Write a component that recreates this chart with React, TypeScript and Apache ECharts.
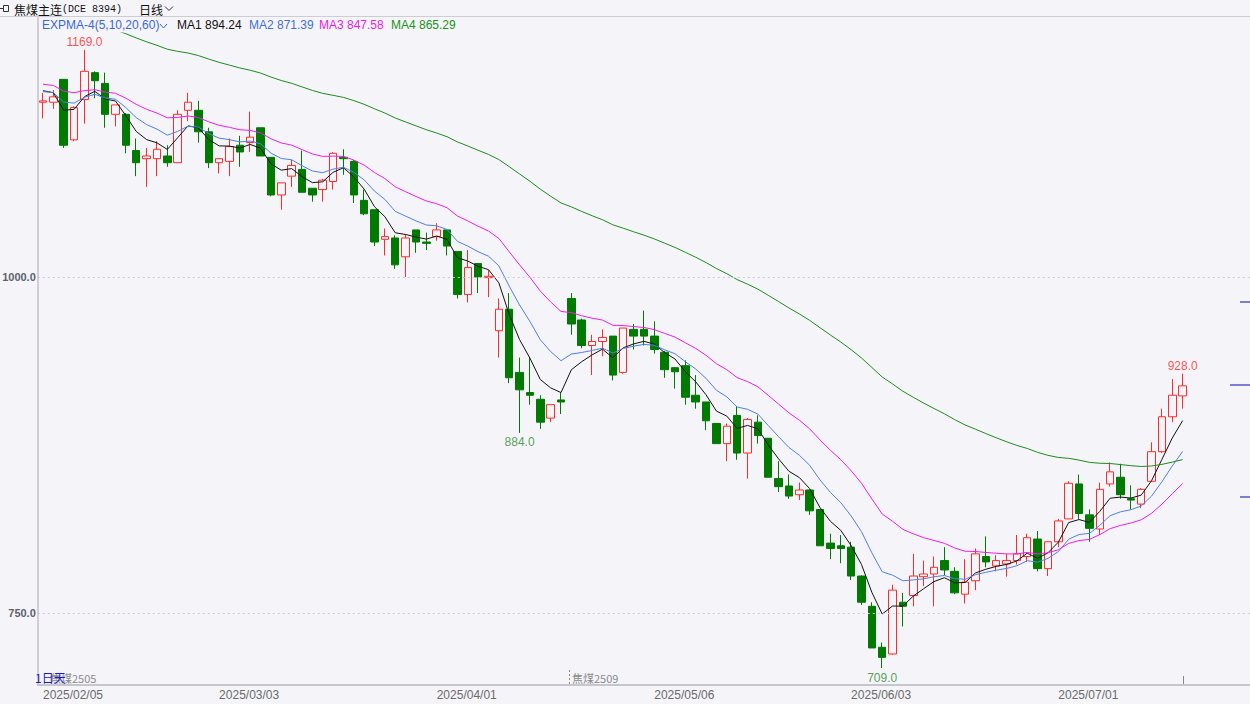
import React, { useEffect, useRef } from "react";
import * as echarts from "echarts";

// ---- data ----
const dates = [
  "2025/02/06","2025/02/07","2025/02/10","2025/02/11","2025/02/12","2025/02/13","2025/02/14","2025/02/17","2025/02/18","2025/02/19",
  "2025/02/20","2025/02/21","2025/02/24","2025/02/25","2025/02/26","2025/02/27","2025/02/28",
  "2025/03/03","2025/03/04","2025/03/05","2025/03/06","2025/03/07","2025/03/10","2025/03/11","2025/03/12","2025/03/13","2025/03/14",
  "2025/03/17","2025/03/18","2025/03/19","2025/03/20","2025/03/21","2025/03/24","2025/03/25","2025/03/26","2025/03/27","2025/03/28","2025/03/31",
  "2025/04/01","2025/04/02","2025/04/03","2025/04/07","2025/04/08","2025/04/09","2025/04/10","2025/04/11","2025/04/14","2025/04/15",
  "2025/04/16","2025/04/17","2025/04/18","2025/04/21","2025/04/22","2025/04/23","2025/04/24","2025/04/25","2025/04/28","2025/04/29","2025/04/30",
  "2025/05/06","2025/05/07","2025/05/08","2025/05/09","2025/05/12","2025/05/13","2025/05/14","2025/05/15","2025/05/16","2025/05/19",
  "2025/05/20","2025/05/21","2025/05/22","2025/05/23","2025/05/26","2025/05/27","2025/05/28","2025/05/29","2025/05/30",
  "2025/06/03","2025/06/04","2025/06/05","2025/06/06","2025/06/09","2025/06/10","2025/06/11","2025/06/12","2025/06/13","2025/06/16",
  "2025/06/17","2025/06/18","2025/06/19","2025/06/20","2025/06/23","2025/06/24","2025/06/25","2025/06/26","2025/06/27","2025/06/30",
  "2025/07/01","2025/07/02","2025/07/03","2025/07/04","2025/07/07","2025/07/08","2025/07/09","2025/07/10","2025/07/11","2025/07/14",
  "2025/07/15","2025/07/16","2025/07/17",
];

const opens = [
  1130,1130,1147,1102,1132,1152,1144,1121,1121,1094,
  1088,1088,1090,1085,1124,1124,1108,1085,1086,1098,
  1100,1111,1089,1061,1075,1080,1066,1065,1071,1089,
  1086,1057,1050,1028,1029,1015,1035,1026,1030,1035,
  1019,987,1010,999.5,960,976,929,914,909,895,
  908.5,984,968,949,952,956,929,961,961,956,
  944,932.5,934,912,907,891,876,897,869,892,
  880,850,844.5,838,841.5,827,802,800,799,777.5,
  755,724.5,719.5,758,763,777,779,789,781,764,
  774,792,785,786.5,789,792,805,783,803,820,
  846,823,812.5,846,851,835,831,848,870,896,
  911.5,
];

const closes = [
  1131,1134,1098,1126,1153,1146,1121,1128,1098,1085,
  1090,1095,1085,1121,1130,1108,1085,1088,1097,1093,
  1104,1090,1061,1070,1083,1063,1061,1072,1092,1088,
  1061,1047,1026,1030,1009,1029,1026,1025,1035,1023,
  987,1007,1000,1000.5,976,925,916,912,892,905,
  907,965,949,952,955,927,962,956,956,946,
  931,929.5,910.5,907,893,876,889,869,894,882,
  851,844,837,841.5,826,800,798,798,777.5,758,
  724,717,767,755,777.5,779,784,782,765,773,
  794,788,789,789,794,806,783,803,818.5,846.5,
  824,813,842,855,838,834,842,870,896,912,
  919,
];

const lows = [
  1118,1125,1096,1101,1114,1133,1111,1112,1092,1075,
  1067,1075,1082,1085,1116,1100,1081,1077,1075,1082,
  1093,1090,1060,1050,1067,1063,1056,1056,1065,1076,
  1055,1046,1023,1016,1006,1000,1018,1020,1027,1016,
  984,981,988,985,940,921,884,905,887,892,
  898,957,947,927,941,923,928,946,949,943,
  925,917,905,902,886,876,863,864,850,876,
  851,840,835,834,823,800,790,787,774.5,756,
  724,709,719,740,755,770,755,778,764,757,
  767,784,781,777,786,788,781,777.5,799,820,
  820,803,808,844,835,827,828,848,869,892,
  902,
];

const highs = [
  1137,1139,1147,1127,1169,1153,1152,1128,1122,1103,
  1096,1101,1098,1124,1137,1131,1111,1088,1103,1105,
  1123,1111,1089,1070,1087,1094,1066,1073,1093,1095,
  1087,1065,1050,1036,1031,1032,1035,1033,1040,1035,
  1019,1020,1010,1005,984,988,940,940,912,905,
  914,988,969,957,961,956,962,965,975,967,
  945,933,938,927,907,891,891,904,895,897,
  880,863,853,847,842,827,809,808,803,778,
  758,728,771,765,794,789,792,799,784,790,
  798,807,793,794,808,809,811,803,820,848,
  853,827,847,862,861,845,843,877,902,924,
  928,
];

// EXPMA indicator: periods and the indicator values on the first visible bar
const emaPeriods = [5, 10, 20, 60];
const emaFirstValues = [1138.6, 1137.9, 1143.4, 1198];
const emaNames = ["MA1", "MA2", "MA3", "MA4"];
const emaHeaderValues = ["894.24", "871.39", "847.58", "865.29"];

const yTicks = [1000, 750];
const xTickIndex = [0, 17, 38, 59, 78, 98];
const xTickLabels = ["2025/02/05", "2025/03/03", "2025/04/01", "2025/05/06", "2025/06/03", "2025/07/01"];

const extremeMarks = [
  { index: 4, kind: "high" },
  { index: 46, kind: "low" },
  { index: 81, kind: "low" },
  { index: 110, kind: "high" },
];

// ---- styles ----
const BG = "#f5f5f9";
const UP = "#ff2a2a";
const DOWN = "#007a00";
const EMA_COLORS = ["#111111", "#4f7fe6", "#f01cf0", "#1e8a1e"];
const HEADER_COLORS = ["#111111", "#3f6fe0", "#e81ce8", "#1a931a"];
const LATIN = "'Liberation Sans', Arial, 'Noto Sans CJK SC', sans-serif";
const CJK = "'Noto Sans CJK SC', 'Liberation Sans', sans-serif";

function computeEma(period: number, first: number): number[] {
  const a = 2 / (period + 1);
  const out: number[] = [];
  closes.forEach((c, i) => {
    out.push(i === 0 ? first : a * c + (1 - a) * out[i - 1]);
  });
  return out.map((v) => Math.round(v * 100) / 100);
}

export default function App() {
  const ref = useRef<HTMLDivElement>(null);

  useEffect(() => {
    document.body.style.margin = "0";
    document.body.style.background = BG;
    if (!ref.current) return;
    const chart = echarts.init(ref.current, undefined, { renderer: "svg" });

    const BAND = 10.41;
    const PAD = 6;
    const cats = dates.concat(Array.from({ length: PAD }, (_, k) => "pad" + k));

    const candleData = opens.map((o, i) => [o, closes[i], lows[i], highs[i]]);
    const emas = emaPeriods.map((p, k) => computeEma(p, emaFirstValues[k]));

    const headerX = [177, 249, 319, 391];

    const graphic: any[] = [
      { type: "rect", shape: { x: 0, y: 0, width: 1250, height: 16 }, style: { fill: BG }, silent: true },
      { type: "line", shape: { x1: 0, y1: 16.5, x2: 1250, y2: 16.5 }, style: { stroke: "#cdcdd4", lineWidth: 1 }, silent: true },
      { type: "line", shape: { x1: 38, y1: 17, x2: 38, y2: 686 }, style: { stroke: "#a8a8b0", lineWidth: 1 }, silent: true },
      // header icon
      { type: "rect", shape: { x: 3.5, y: 5.5, width: 5, height: 6 }, style: { fill: "none", stroke: "#333", lineWidth: 1 }, silent: true },
      { type: "line", shape: { x1: 0, y1: 8.5, x2: 3.5, y2: 8.5 }, style: { stroke: "#333", lineWidth: 1 }, silent: true },
      { type: "text", x: 14, y: 9, style: { text: "焦煤主连", fill: "#111", fontSize: 12, fontFamily: CJK, verticalAlign: "middle" }, silent: true },
      { type: "text", x: 62, y: 9.5, style: { text: "(DCE 8394)", fill: "#111", fontSize: 10, fontFamily: "'Liberation Mono', 'DejaVu Sans Mono', monospace", verticalAlign: "middle" }, silent: true },
      { type: "text", x: 139, y: 9, style: { text: "日线", fill: "#111", fontSize: 12, fontFamily: CJK, verticalAlign: "middle" }, silent: true },
      { type: "polyline", shape: { points: [[165, 6.5], [169, 10.5], [173, 6.5]] }, style: { stroke: "#333", lineWidth: 1, fill: "none" }, silent: true },
      // indicator row
      { type: "text", x: 42, y: 25, style: { text: "EXPMA-4(5,10,20,60)", fill: "#3b67d6", fontSize: 12, fontFamily: LATIN, verticalAlign: "middle" }, silent: true },
      { type: "polyline", shape: { points: [[160, 24], [163.5, 28], [167, 24]] }, style: { stroke: "#3b67d6", lineWidth: 1, fill: "none" }, silent: true },
      ...emaNames.map((n, k) => ({
        type: "text", x: headerX[k], y: 25,
        style: { text: n + " " + emaHeaderValues[k], fill: HEADER_COLORS[k], fontSize: 12, fontFamily: LATIN, verticalAlign: "middle" },
        silent: true,
      })),
      // bottom-left notes
      { type: "text", x: 50, y: 678, style: { text: "焦煤2505", fill: "#8a8a8a", fontSize: 11, fontFamily: CJK, verticalAlign: "middle" }, silent: true },
      { type: "text", x: 35, y: 677, style: { text: "1日天", fill: "#1a1acc", fontSize: 12, fontFamily: CJK, verticalAlign: "middle" }, silent: true },
      { type: "line", shape: { x1: 569.5, y1: 670, x2: 569.5, y2: 685 }, style: { stroke: "#8a8a8a", lineWidth: 1, lineDash: [2, 2] }, silent: true },
      { type: "text", x: 572, y: 678, style: { text: "焦煤2509", fill: "#8a8a8a", fontSize: 11, fontFamily: CJK, verticalAlign: "middle" }, silent: true },
      { type: "line", shape: { x1: 1183.5, y1: 676, x2: 1183.5, y2: 685 }, style: { stroke: "#8a8a8a", lineWidth: 1 }, silent: true },
      // right side level marks
      { type: "line", shape: { x1: 1240, y1: 302, x2: 1250, y2: 302 }, style: { stroke: "#7d7dd6", lineWidth: 2 }, silent: true },
      { type: "line", shape: { x1: 1230, y1: 385, x2: 1250, y2: 385 }, style: { stroke: "#7d7dd6", lineWidth: 2 }, silent: true },
      { type: "line", shape: { x1: 1240, y1: 497, x2: 1250, y2: 497 }, style: { stroke: "#7d7dd6", lineWidth: 2 }, silent: true },
    ];

    const option: any = {
      animation: false,
      backgroundColor: BG,
      grid: { left: 37.8, top: 33, width: BAND * cats.length, height: 652, containLabel: false },
      xAxis: {
        type: "category",
        data: cats,
        boundaryGap: true,
        axisLine: { lineStyle: { color: "#c6c6cc", width: 2 } },
        axisTick: { show: false },
        splitLine: { show: false },
        axisLabel: {
          interval: (i: number) => xTickIndex.includes(i),
          formatter: (_v: string, i: number) => {
            const k = xTickIndex.indexOf(i);
            return k >= 0 ? xTickLabels[k] : "";
          },
          align: "left",
          color: "#6a6a6a",
          fontSize: 12,
          fontFamily: LATIN,
          margin: 4,
        },
      },
      yAxis: {
        type: "value",
        min: 696.43,
        max: 1181.5,
        axisLine: { show: false },
        axisTick: { show: false },
        axisLabel: { show: false },
        splitLine: { show: false },
      },
      series: [
        {
          type: "candlestick",
          data: candleData,
          barWidth: 8,
          z: 2,
          silent: true,
          itemStyle: { color: BG, color0: DOWN, borderColor: UP, borderColor0: DOWN, borderWidth: 1 },
          markLine: {
            silent: true,
            symbol: ["none", "none"],
            lineStyle: { color: "#c9c9cf", type: [2, 3], width: 1 },
            label: {
              position: "start",
              distance: 2,
              formatter: (p: any) => Number(p.value).toFixed(1),
              color: "#5b626c",
              fontSize: 11,
              fontWeight: "bold",
              fontFamily: LATIN,
            },
            data: yTicks.map((v) => ({ yAxis: v })),
          },
        },
        ...emas.map((d, k) => ({
          type: "line",
          name: emaNames[k],
          data: d,
          symbol: "none",
          silent: true,
          z: 3,
          lineStyle: { color: EMA_COLORS[k], width: 1 },
        })),
        {
          type: "scatter",
          silent: true,
          z: 5,
          symbolSize: 1,
          itemStyle: { color: "rgba(0,0,0,0)" },
          label: { show: true, fontSize: 12, fontFamily: LATIN, formatter: (p: any) => Number(p.value[1]).toFixed(1) },
          data: extremeMarks.map((m) => ({
            value: [m.index, m.kind === "high" ? highs[m.index] : lows[m.index]],
            label: {
              position: m.kind === "high" ? "top" : "bottom",
              distance: m.kind === "high" ? 1 : 3,
              color: m.kind === "high" ? "#ff1f1f" : "#2a8a2a",
            },
          })),
        },
      ],
      graphic,
    };

    chart.setOption(option);
    return () => chart.dispose();
  }, []);

  return <div ref={ref} style={{ width: 1250, height: 704 }} />;
}
